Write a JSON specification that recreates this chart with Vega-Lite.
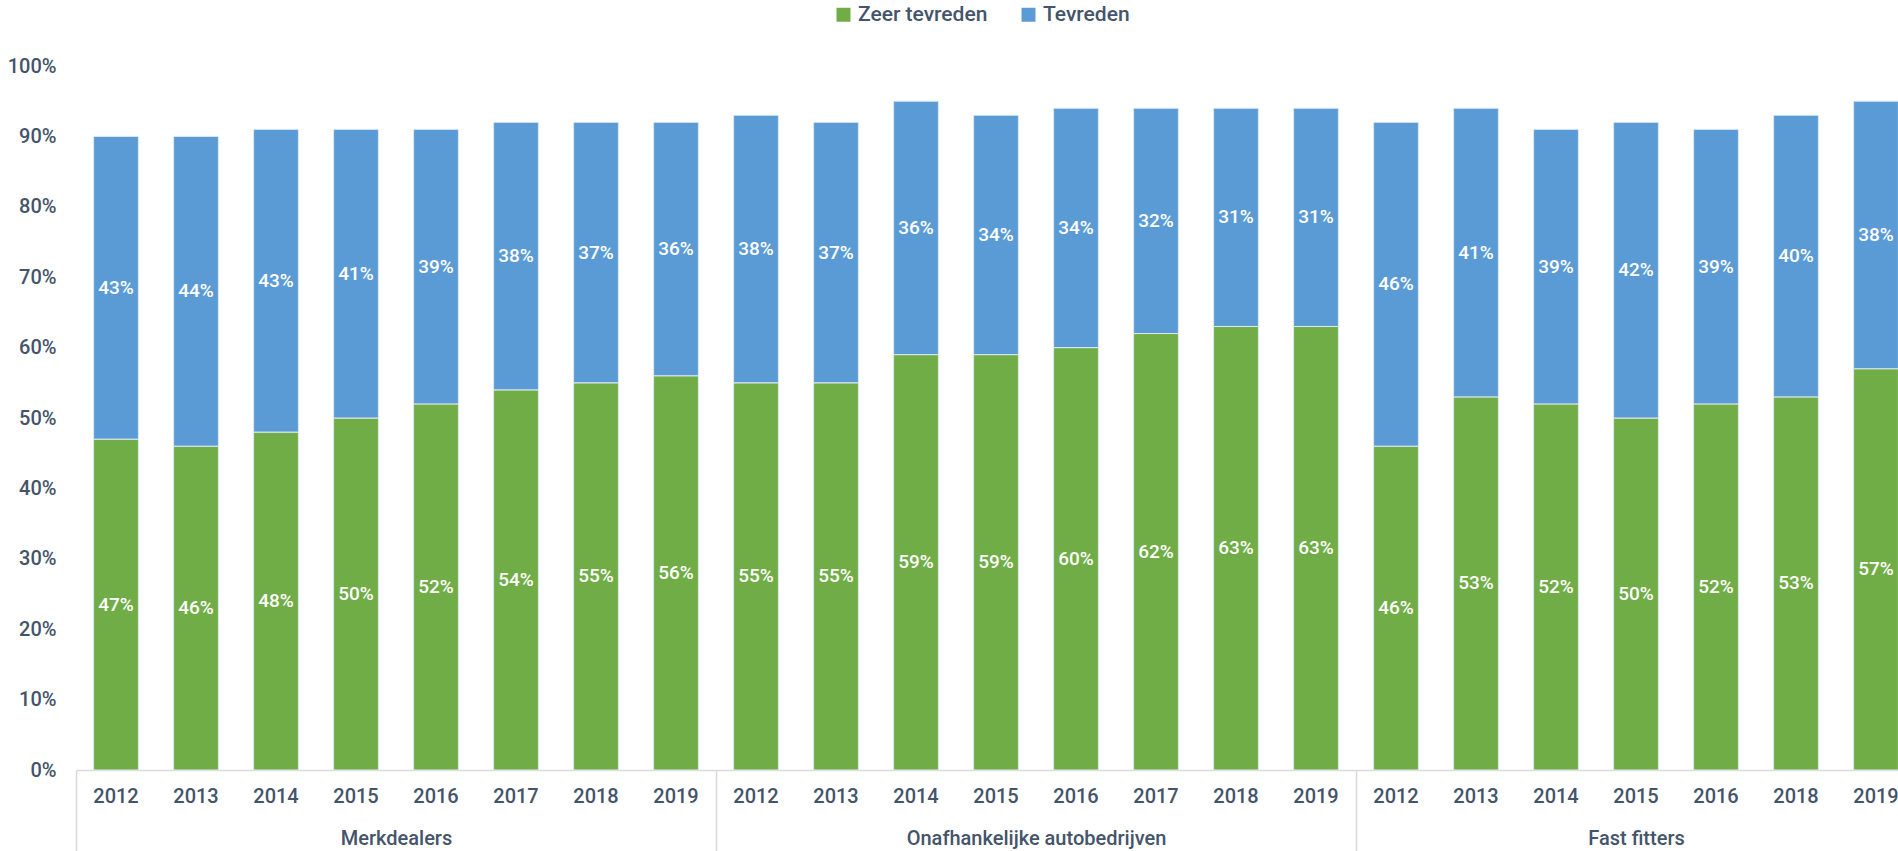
{
  "$schema": "https://vega.github.io/schema/vega-lite/v6.json",
  "autosize": "none",
  "width": 1840,
  "height": 704,
  "padding": {"left": 76, "top": 66, "right": -18, "bottom": 81},
  "background": "white",
  "config": {
    "view": {"stroke": null},
    "font": "Roboto, sans-serif",
    "axis": {"grid": false, "labelFont": "Roboto, sans-serif", "labelColor": "#44546a", "labelFontSize": 20, "labelFontWeight": 500},
    "legend": {"labelFont": "Roboto, sans-serif"}
  },
  "layer": [
    {
      "data": {
        "values": [
          {"groep": "Merkdealers", "jaar": "2012", "reeks": "Zeer tevreden", "waarde": 0.47},
          {"groep": "Merkdealers", "jaar": "2012", "reeks": "Tevreden", "waarde": 0.43},
          {"groep": "Merkdealers", "jaar": "2013", "reeks": "Zeer tevreden", "waarde": 0.46},
          {"groep": "Merkdealers", "jaar": "2013", "reeks": "Tevreden", "waarde": 0.44},
          {"groep": "Merkdealers", "jaar": "2014", "reeks": "Zeer tevreden", "waarde": 0.48},
          {"groep": "Merkdealers", "jaar": "2014", "reeks": "Tevreden", "waarde": 0.43},
          {"groep": "Merkdealers", "jaar": "2015", "reeks": "Zeer tevreden", "waarde": 0.50},
          {"groep": "Merkdealers", "jaar": "2015", "reeks": "Tevreden", "waarde": 0.41},
          {"groep": "Merkdealers", "jaar": "2016", "reeks": "Zeer tevreden", "waarde": 0.52},
          {"groep": "Merkdealers", "jaar": "2016", "reeks": "Tevreden", "waarde": 0.39},
          {"groep": "Merkdealers", "jaar": "2017", "reeks": "Zeer tevreden", "waarde": 0.54},
          {"groep": "Merkdealers", "jaar": "2017", "reeks": "Tevreden", "waarde": 0.38},
          {"groep": "Merkdealers", "jaar": "2018", "reeks": "Zeer tevreden", "waarde": 0.55},
          {"groep": "Merkdealers", "jaar": "2018", "reeks": "Tevreden", "waarde": 0.37},
          {"groep": "Merkdealers", "jaar": "2019", "reeks": "Zeer tevreden", "waarde": 0.56},
          {"groep": "Merkdealers", "jaar": "2019", "reeks": "Tevreden", "waarde": 0.36},
          {"groep": "Onafhankelijke autobedrijven", "jaar": "2012", "reeks": "Zeer tevreden", "waarde": 0.55},
          {"groep": "Onafhankelijke autobedrijven", "jaar": "2012", "reeks": "Tevreden", "waarde": 0.38},
          {"groep": "Onafhankelijke autobedrijven", "jaar": "2013", "reeks": "Zeer tevreden", "waarde": 0.55},
          {"groep": "Onafhankelijke autobedrijven", "jaar": "2013", "reeks": "Tevreden", "waarde": 0.37},
          {"groep": "Onafhankelijke autobedrijven", "jaar": "2014", "reeks": "Zeer tevreden", "waarde": 0.59},
          {"groep": "Onafhankelijke autobedrijven", "jaar": "2014", "reeks": "Tevreden", "waarde": 0.36},
          {"groep": "Onafhankelijke autobedrijven", "jaar": "2015", "reeks": "Zeer tevreden", "waarde": 0.59},
          {"groep": "Onafhankelijke autobedrijven", "jaar": "2015", "reeks": "Tevreden", "waarde": 0.34},
          {"groep": "Onafhankelijke autobedrijven", "jaar": "2016", "reeks": "Zeer tevreden", "waarde": 0.60},
          {"groep": "Onafhankelijke autobedrijven", "jaar": "2016", "reeks": "Tevreden", "waarde": 0.34},
          {"groep": "Onafhankelijke autobedrijven", "jaar": "2017", "reeks": "Zeer tevreden", "waarde": 0.62},
          {"groep": "Onafhankelijke autobedrijven", "jaar": "2017", "reeks": "Tevreden", "waarde": 0.32},
          {"groep": "Onafhankelijke autobedrijven", "jaar": "2018", "reeks": "Zeer tevreden", "waarde": 0.63},
          {"groep": "Onafhankelijke autobedrijven", "jaar": "2018", "reeks": "Tevreden", "waarde": 0.31},
          {"groep": "Onafhankelijke autobedrijven", "jaar": "2019", "reeks": "Zeer tevreden", "waarde": 0.63},
          {"groep": "Onafhankelijke autobedrijven", "jaar": "2019", "reeks": "Tevreden", "waarde": 0.31},
          {"groep": "Fast fitters", "jaar": "2012", "reeks": "Zeer tevreden", "waarde": 0.46},
          {"groep": "Fast fitters", "jaar": "2012", "reeks": "Tevreden", "waarde": 0.46},
          {"groep": "Fast fitters", "jaar": "2013", "reeks": "Zeer tevreden", "waarde": 0.53},
          {"groep": "Fast fitters", "jaar": "2013", "reeks": "Tevreden", "waarde": 0.41},
          {"groep": "Fast fitters", "jaar": "2014", "reeks": "Zeer tevreden", "waarde": 0.52},
          {"groep": "Fast fitters", "jaar": "2014", "reeks": "Tevreden", "waarde": 0.39},
          {"groep": "Fast fitters", "jaar": "2015", "reeks": "Zeer tevreden", "waarde": 0.50},
          {"groep": "Fast fitters", "jaar": "2015", "reeks": "Tevreden", "waarde": 0.42},
          {"groep": "Fast fitters", "jaar": "2016", "reeks": "Zeer tevreden", "waarde": 0.52},
          {"groep": "Fast fitters", "jaar": "2016", "reeks": "Tevreden", "waarde": 0.39},
          {"groep": "Fast fitters", "jaar": "2018", "reeks": "Zeer tevreden", "waarde": 0.53},
          {"groep": "Fast fitters", "jaar": "2018", "reeks": "Tevreden", "waarde": 0.40},
          {"groep": "Fast fitters", "jaar": "2019", "reeks": "Zeer tevreden", "waarde": 0.57},
          {"groep": "Fast fitters", "jaar": "2019", "reeks": "Tevreden", "waarde": 0.38}
        ]
      },
      "transform": [{"calculate": "datum.groep + '|' + datum.jaar", "as": "cat"}],
      "encoding": {
        "x": {
          "field": "cat", "type": "nominal", "sort": null,
          "scale": {"paddingInner": 0.44, "paddingOuter": 0.22},
          "axis": {"orient": "bottom", "title": null, "labelExpr": "split(datum.label, '|')[1]", "ticks": false, "domainColor": "#d9d9d9", "domainWidth": 1.5, "labelAngle": 0, "labelPadding": 16, "labelBaseline": "top"}
        },
        "y": {
          "field": "waarde", "type": "quantitative", "stack": "zero",
          "scale": {"domain": [0, 1], "nice": false},
          "axis": {"title": null, "values": [0, 0.1, 0.2, 0.3, 0.4, 0.5, 0.6, 0.7, 0.8, 0.9, 1], "format": ".0%", "domain": false, "ticks": false, "labelPadding": 20}
        },
        "order": {"field": "reeks", "sort": "descending"}
      },
      "layer": [
        {
          "mark": {"type": "bar", "stroke": "#dfe8f3", "strokeWidth": 1},
          "encoding": {
            "color": {
              "field": "reeks", "type": "nominal",
              "scale": {"domain": ["Zeer tevreden", "Tevreden"], "range": ["#70ad47", "#5b9bd5"]},
              "legend": {"orient": "none", "legendX": 757, "legendY": -62, "direction": "horizontal", "title": null, "symbolType": "square", "symbolSize": 196, "symbolStrokeWidth": 0, "labelFontSize": 21, "labelColor": "#44546a", "labelFontWeight": 500, "labelOffset": 4, "columnPadding": 30}
            }
          }
        },
        {
          "mark": {"type": "text", "color": "white", "fontSize": 19, "fontWeight": 500},
          "encoding": {
            "y": {"field": "waarde", "type": "quantitative", "stack": "zero", "bandPosition": 0.5},
            "text": {"field": "waarde", "type": "quantitative", "format": ".0%"}
          }
        }
      ]
    },
    {
      "data": {"values": [{"pos": 0}, {"pos": 8}, {"pos": 16}, {"pos": 23}]},
      "mark": {"type": "rule", "opacity": 0},
      "encoding": {
        "x": {
          "field": "pos", "type": "quantitative",
          "scale": {"domain": [0, 23], "nice": false, "zero": false},
          "axis": {"orient": "bottom", "title": null, "values": [0, 8, 16, 23], "labels": false, "domain": false, "grid": false, "ticks": true, "tickSize": 81, "tickColor": "#d9d9d9", "tickWidth": 1.5}
        }
      }
    },
    {
      "data": {"values": [{"pos": 4, "groep": "Merkdealers"}, {"pos": 12, "groep": "Onafhankelijke autobedrijven"}, {"pos": 19.5, "groep": "Fast fitters"}]},
      "mark": {"type": "rule", "opacity": 0},
      "encoding": {
        "x": {
          "field": "pos", "type": "quantitative",
          "scale": {"domain": [0, 23], "nice": false, "zero": false},
          "axis": {"orient": "bottom", "title": null, "values": [4, 12, 19.5], "labelExpr": "datum.value == 4 ? 'Merkdealers' : datum.value == 12 ? 'Onafhankelijke autobedrijven' : 'Fast fitters'", "domain": false, "grid": false, "ticks": false, "labelPadding": 58, "labelBaseline": "top", "labelFlush": false, "labelLimit": 0, "labelOverlap": false}
        }
      }
    }
  ],
  "resolve": {"scale": {"x": "independent"}, "axis": {"x": "independent"}}
}
